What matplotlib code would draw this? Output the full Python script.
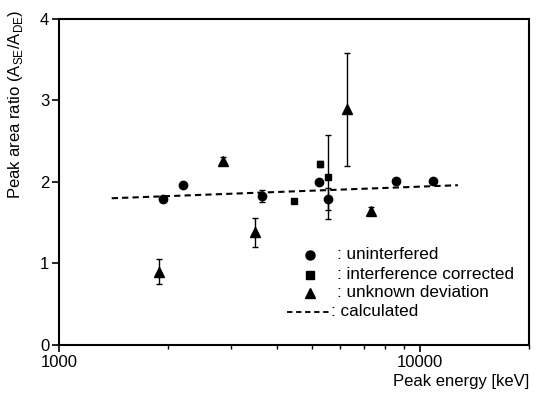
import matplotlib
matplotlib.use("Agg")
import matplotlib.pyplot as plt
from matplotlib.ticker import LogLocator, NullFormatter, FixedLocator, FixedFormatter

plt.rcParams['font.family'] = ['Liberation Sans', 'DejaVu Sans']
plt.rcParams['mathtext.fontset'] = 'custom'
plt.rcParams['mathtext.rm'] = 'Liberation Sans'

# uninterfered
circ_x = [1945, 2210, 3656, 5251, 5550, 8570, 10840]
circ_y = [1.79, 1.96, 1.83, 2.00, 1.79, 2.01, 2.01]
circ_err = [0.03, 0.0, 0.07, 0.0, 0.13, 0.04, 0.03]

# interference corrected
sq_x = [4485, 5260, 5550]
sq_y = [1.77, 2.22, 2.06]
sq_err = [0.02, 0.04, 0.52]

# unknown deviation
tri_x = [1892, 2852, 3490, 6265, 7300]
tri_y = [0.90, 2.26, 1.38, 2.89, 1.64]
tri_err = [0.15, 0.05, 0.18, 0.69, 0.05]

# calculated
calc_x = [1400, 3650, 12700]
calc_y = [1.80, 1.87, 1.96]

fig = plt.figure(figsize=(5.45, 3.96), dpi=100)
ax = fig.add_axes([0.108, 0.129, 0.863, 0.823])

ax.plot(calc_x, calc_y, color='black', linestyle=(0, (3, 2)), lw=1.5)
ebkw = dict(color='black', ecolor='black', elinewidth=1, capsize=2.5,
            capthick=1, linestyle='none')
ax.errorbar(circ_x, circ_y, yerr=circ_err, marker='o', ms=6, **ebkw)
ax.errorbar(sq_x, sq_y, yerr=sq_err, marker='s', ms=5, **ebkw)
ax.errorbar(tri_x, tri_y, yerr=tri_err, marker='^', ms=6.5, **ebkw)

ax.set_xscale('log')
ax.set_xlim(1000, 20000)
ax.set_ylim(0, 4)
ax.xaxis.set_major_locator(FixedLocator([1000, 10000]))
ax.xaxis.set_major_formatter(FixedFormatter(['1000', '10000']))
ax.xaxis.set_minor_locator(LogLocator(base=10, subs=range(2, 10)))
ax.xaxis.set_minor_formatter(NullFormatter())
ax.set_yticks([0, 1, 2, 3, 4])

for s in ax.spines.values():
    s.set_linewidth(1.5)
ax.tick_params(axis='both', which='major', direction='out', length=5,
               width=1.2, labelsize=12, pad=2)
ax.tick_params(axis='x', which='minor', direction='out', length=3, width=1)

ax.set_xlabel('Peak energy [keV]', fontsize=12, loc='right', labelpad=3)
ax.set_ylabel(r'Peak area ratio (A$_\mathregular{SE}$/A$_\mathregular{DE}$)',
              fontsize=12, loc='top')
ax.yaxis.set_label_coords(-0.072, 1.03)

# legend drawn as in the original
tr = ax.transAxes
rows = [0.276, 0.215, 0.160, 0.101]
ax.plot([0.534], [rows[0]], 'o', color='black', ms=6.5, transform=tr)
ax.plot([0.534], [rows[1]], 's', color='black', ms=5.5, transform=tr)
ax.plot([0.534], [rows[2]], '^', color='black', ms=7, transform=tr)
ax.plot([0.485, 0.575], [rows[3], rows[3]], color='black',
        linestyle=(0, (3, 2)), lw=1.3, transform=tr)
labels = [': uninterfered', ': interference corrected', ': unknown deviation']
for r, t in zip(rows[:3], labels):
    ax.text(0.592, r, t, transform=tr, fontsize=12.3, va='center')
ax.text(0.578, rows[3], ': calculated', transform=tr, fontsize=12.3, va='center')

fig.savefig('out.png', dpi=100)
